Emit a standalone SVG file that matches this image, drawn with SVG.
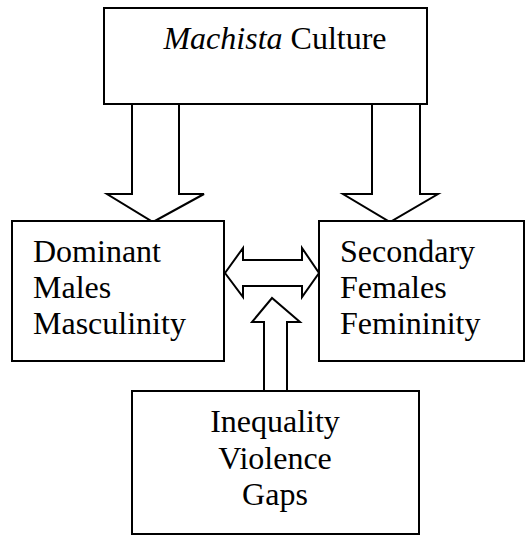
<svg xmlns="http://www.w3.org/2000/svg" width="530" height="536" viewBox="0 0 530 536">
<style>
.box{fill:#fff;stroke:#000;stroke-width:2}
.arr{fill:#fff;stroke:#000;stroke-width:2;stroke-linejoin:miter}
text{font-family:"Liberation Serif","Times New Roman",serif;font-size:32px;fill:#000}
</style>
<rect width="530" height="536" fill="#fff"/>
<g id="culture">
<rect class="box" x="104" y="8" width="323" height="96"/>
<text x="275" y="49" text-anchor="middle"><tspan font-style="italic">Machista</tspan> Culture</text>
</g>
<g id="connectors">
<polygon class="arr" points="132,104 179,104 179,194 204,194 153,222 107,194 132,194"/>
<polygon class="arr" points="372,104 420,104 420,194 438,194 390,222 343,194 372,194"/>
<polygon class="arr" points="225,273 243,248 243,260 302,260 302,248 319,273 302,297 302,286 243,286 243,297"/>
<polygon class="arr" points="264,391 264,322 252,322 272,298 300,322 287,322 287,391"/>
</g>
<g id="males">
<rect class="box" x="12" y="221" width="212" height="140"/>
<text x="33" y="262">Dominant</text>
<text x="33" y="298">Males</text>
<text x="33" y="334">Masculinity</text>
</g>
<g id="females">
<rect class="box" x="319" y="221" width="205" height="140"/>
<text x="340" y="262">Secondary</text>
<text x="340" y="298">Females</text>
<text x="340" y="334">Femininity</text>
</g>
<g id="outcomes">
<rect class="box" x="132" y="391" width="287" height="143"/>
<text x="275" y="432" text-anchor="middle">Inequality</text>
<text x="275" y="469" text-anchor="middle">Violence</text>
<text x="275" y="505" text-anchor="middle">Gaps</text>
</g>
</svg>
